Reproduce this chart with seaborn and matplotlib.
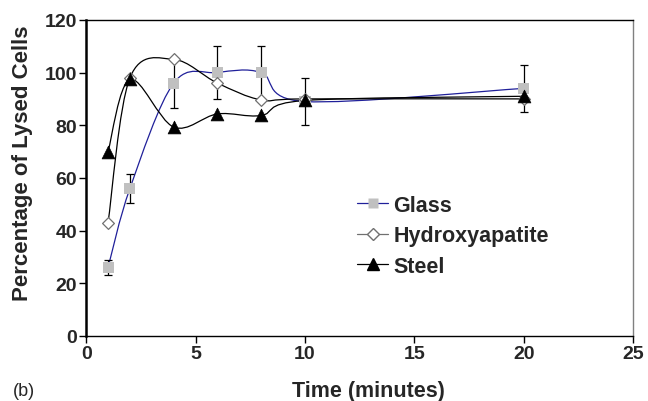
import numpy as np
import pandas as pd
import matplotlib
matplotlib.use("Agg")
import matplotlib.pyplot as plt
from matplotlib.path import Path
from matplotlib.patches import PathPatch
from matplotlib.lines import Line2D
import seaborn as sns

# ------------------------------------------------------
# Data
# ------------------------------------------------------
time_min = [1, 2, 4, 6, 8, 10, 20]
glass = [26, 56, 96, 100, 100, 89, 94]
glass_err = [3, 5.5, 9.5, 10, 10, 9, 9]
hydroxyapatite = [43, 98, 105, 96, 89.6, 90, 90]
steel = [70, 97.4, 79.3, 84.3, 83.7, 89.4, 91]

x_ticks = [0, 5, 10, 15, 20, 25]
y_ticks = [0, 20, 40, 60, 80, 100, 120]

FONT = "Liberation Sans"


# ------------------------------------------------------
# Helpers
# ------------------------------------------------------
def smooth_path(xs, ys):
    # Excel-style smoothed line: cubic bezier through the points
    pts = np.column_stack([xs, ys]).astype(float)
    n = len(pts)
    verts = [pts[0]]
    codes = [Path.MOVETO]
    for i in range(n - 1):
        p0 = pts[i - 1] if i > 0 else pts[i]
        p1 = pts[i]
        p2 = pts[i + 1]
        p3 = pts[i + 2] if i + 2 < n else pts[i + 1]
        c1 = p1 + (p2 - p0) / 6.0
        c2 = p2 - (p3 - p1) / 6.0
        verts += [c1, c2, p2]
        codes += [Path.CURVE4] * 3
    return Path(verts, codes)


def draw_curve(ax, xs, ys, color, lw=0.9):
    patch = PathPatch(smooth_path(xs, ys), facecolor="none",
                      edgecolor=color, lw=lw, zorder=2)
    ax.add_patch(patch)


# ------------------------------------------------------
# Plot
# ------------------------------------------------------
sns.set_style("ticks")
plt.rcParams["font.family"] = [FONT, "DejaVu Sans"]

fig = plt.figure(figsize=(6.48, 4.02), dpi=100)
ax = fig.add_axes([0.133, 0.162, 0.844, 0.786])

df = pd.DataFrame({
    "time": time_min * 3,
    "value": glass + hydroxyapatite + steel,
    "series": ["Glass"] * 7 + ["Hydroxyapatite"] * 7 + ["Steel"] * 7,
})

glass_col = "#20209a"
draw_curve(ax, time_min, glass, glass_col)
draw_curve(ax, time_min, hydroxyapatite, "black")
draw_curve(ax, time_min, steel, "black")

ax.errorbar(time_min, glass, yerr=glass_err, fmt="none", ecolor="black",
            elinewidth=0.9, capsize=3, capthick=0.9, zorder=3)

sns.scatterplot(data=df[df.series == "Glass"], x="time", y="value", ax=ax,
                marker="s", s=64, color="#c0c0c0", edgecolor="none",
                zorder=4, legend=False)
sns.scatterplot(data=df[df.series == "Hydroxyapatite"], x="time", y="value",
                ax=ax, marker="D", s=36, color="white", edgecolor="#707070",
                linewidth=0.9, zorder=4, legend=False)
sns.scatterplot(data=df[df.series == "Steel"], x="time", y="value", ax=ax,
                marker="^", s=85, color="black", edgecolor="black",
                linewidth=0.5, zorder=5, legend=False)

ax.set_xlim(0, 25)
ax.set_ylim(0, 120)
ax.set_xticks(x_ticks)
ax.set_yticks(y_ticks)
ax.tick_params(axis="both", direction="out", length=5, width=1,
               color="black", labelsize=14, pad=1.5)
for lab in ax.get_xticklabels() + ax.get_yticklabels():
    lab.set_fontweight("bold")

ax.spines["left"].set_linewidth(1.8)
ax.spines["bottom"].set_linewidth(1.0)
ax.spines["top"].set_linewidth(1.0)
ax.spines["right"].set_linewidth(1.0)
ax.spines["right"].set_color("#808080")
for s in ["left", "bottom", "top"]:
    ax.spines[s].set_color("black")

ax.set_xlabel("")
ax.set_ylabel("")
fig.text(0.034, 0.594, "Percentage of Lysed Cells", rotation=90,
         ha="center", va="center", fontsize=16, fontweight="bold")
fig.text(0.568, 0.027, "Time (minutes)", ha="center", va="center",
         fontsize=15.5, fontweight="bold")
fig.text(0.02, 0.027, "(b)", ha="left", va="center", fontsize=13)

handles = [
    Line2D([], [], color=glass_col, lw=0.9, marker="s", markersize=7.5,
           markerfacecolor="#c0c0c0", markeredgecolor="none"),
    Line2D([], [], color="#707070", lw=0.9, marker="D", markersize=6,
           markerfacecolor="white", markeredgecolor="#707070"),
    Line2D([], [], color="black", lw=0.9, marker="^", markersize=8,
           markerfacecolor="black"),
]
ax.legend(handles, ["Glass", "Hydroxyapatite", "Steel"], loc="upper left",
          bbox_to_anchor=(0.495, 0.447), frameon=False, borderpad=0,
          borderaxespad=0, handlelength=1.45, handletextpad=0.25,
          labelspacing=0.45, prop={"family": FONT, "weight": "bold",
                                   "size": 15.5})

fig.savefig("out.png", dpi=100)
